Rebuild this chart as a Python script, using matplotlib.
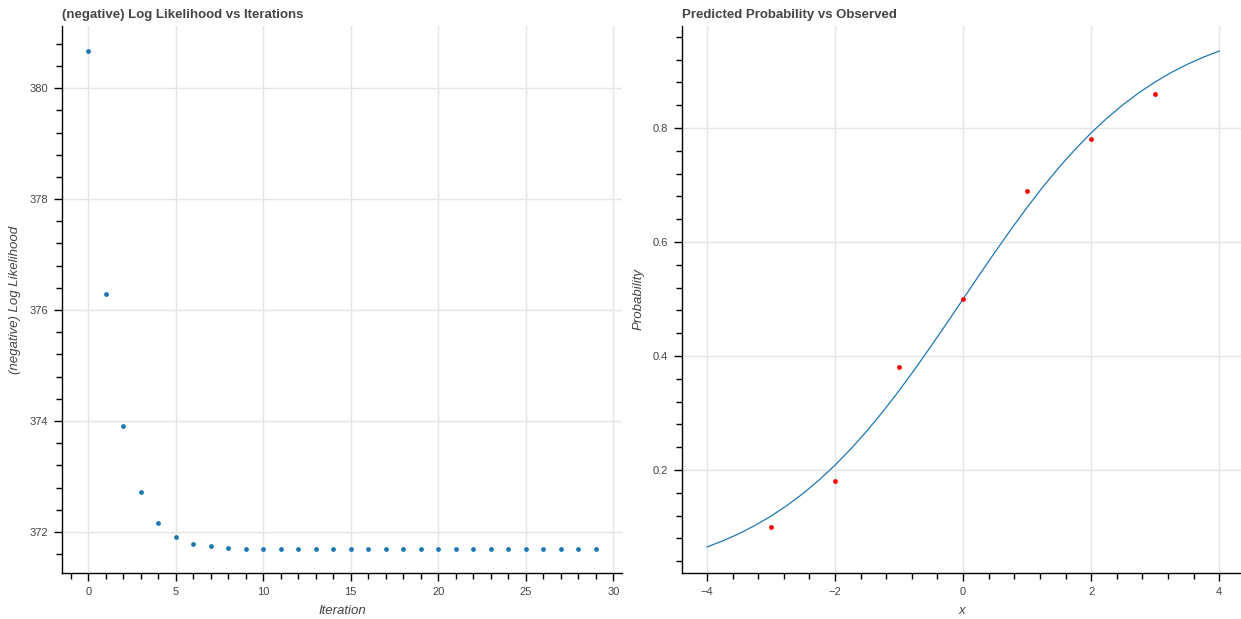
import numpy as np
import matplotlib
matplotlib.use("Agg")
import matplotlib.pyplot as plt
from matplotlib.ticker import MultipleLocator, AutoMinorLocator

plt.rcParams['font.family'] = ['Liberation Sans', 'DejaVu Sans']

# left panel: (negative) log likelihood per iteration
iterations = list(range(30))
neg_loglik = [380.67, 376.29, 373.91, 372.72, 372.16, 371.91, 371.78, 371.74,
              371.71, 371.70] + [371.70] * 20

# right panel: fitted curve (read every 0.25) and observed proportions
curve_x = [-4.0, -3.75, -3.5, -3.25, -3.0, -2.75, -2.5, -2.25, -2.0,
           -1.75, -1.5, -1.25, -1.0, -0.75, -0.5, -0.25, 0.0,
           0.25, 0.5, 0.75, 1.0, 1.25, 1.5, 1.75, 2.0,
           2.25, 2.5, 2.75, 3.0, 3.25, 3.5, 3.75, 4.0]
curve_p = [0.0649, 0.0758, 0.0883, 0.1027, 0.1191, 0.1378, 0.1588, 0.1823, 0.2085,
           0.2374, 0.2688, 0.3028, 0.3392, 0.3775, 0.4174, 0.4583, 0.5,
           0.5417, 0.5826, 0.6225, 0.6608, 0.6972, 0.7312, 0.7626, 0.7915,
           0.8177, 0.8412, 0.8622, 0.8809, 0.8973, 0.9117, 0.9242, 0.9351]
obs_x = [-3, -2, -1, 0, 1, 2, 3]
obs_p = [0.10, 0.18, 0.38, 0.50, 0.69, 0.78, 0.86]

TXT = "#444444"
GRID = "#e5e5e5"

fig = plt.figure(figsize=(12.41, 6.19), dpi=100)
ax1 = fig.add_axes([62 / 1241, 1 - 573 / 619, 560 / 1241, 547 / 619])
ax2 = fig.add_axes([682 / 1241, 1 - 573 / 619, 559 / 1241, 547 / 619])


def bokeh_style(ax, title, xlabel, ylabel):
    for s in ["top", "right"]:
        ax.spines[s].set_visible(False)
    for s in ["left", "bottom"]:
        ax.spines[s].set_color("black")
        ax.spines[s].set_linewidth(1)
    ax.grid(True, color=GRID, linewidth=1)
    ax.set_axisbelow(True)
    ax.tick_params(which="major", direction="out", length=6, width=1,
                   labelsize=8, labelcolor=TXT, pad=4)
    ax.tick_params(which="minor", direction="out", length=4, width=1)
    ax.xaxis.set_minor_locator(AutoMinorLocator(5))
    ax.yaxis.set_minor_locator(AutoMinorLocator(5))
    ax.set_xlabel(xlabel, fontsize=9.5, style="italic", color=TXT, labelpad=6)
    ax.set_ylabel(ylabel, fontsize=9.5, style="italic", color=TXT, labelpad=6)
    ax.set_title(title, loc="left", fontsize=9.5, fontweight="bold", color=TXT, pad=6)


ax1.scatter(iterations, neg_loglik, s=12, color="#1f77b4", zorder=3, linewidths=0)
ax1.set_xlim(-1.5, 30.5)
ax1.set_ylim(371.26, 381.12)
ax1.xaxis.set_major_locator(MultipleLocator(5))
ax1.yaxis.set_major_locator(MultipleLocator(2))
bokeh_style(ax1, "(negative) Log Likelihood vs Iterations", "Iteration",
            "(negative) Log Likelihood")

ax2.plot(curve_x, curve_p, color="#1f77b4", linewidth=0.9, zorder=2)
ax2.scatter(obs_x, obs_p, s=12, color="red", zorder=3, linewidths=0)
ax2.set_xlim(-4.39, 4.34)
ax2.set_ylim(0.0193, 0.979)
ax2.xaxis.set_major_locator(MultipleLocator(2))
ax2.yaxis.set_major_locator(MultipleLocator(0.2))
bokeh_style(ax2, "Predicted Probability vs Observed", "x", "Probability")
ax2.xaxis.set_major_formatter(plt.FuncFormatter(lambda v, p: f"{v:.0f}".replace("-", "\u2212")))

fig.savefig("out.png", dpi=100)
